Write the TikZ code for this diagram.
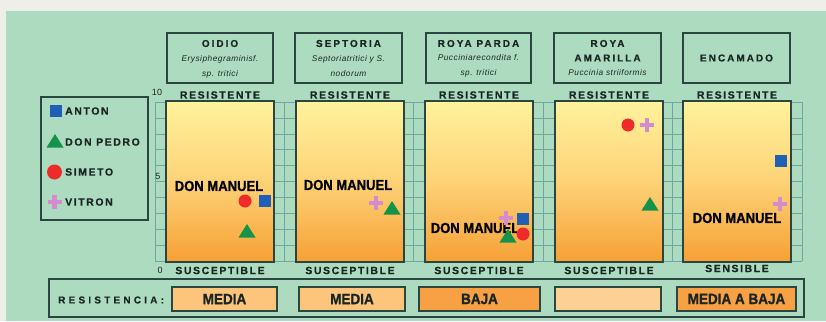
\documentclass[tikz,border=0pt]{standalone}
\usepackage{fontspec}
\setmainfont{Liberation Sans}
\newfontfamily\titlef[LetterSpace=20,FakeBold=0.5]{Liberation Sans}
\newfontfamily\labf[LetterSpace=15,FakeBold=0.5]{Liberation Sans}
\newfontfamily\legf[LetterSpace=15,FakeBold=0.5]{Liberation Sans}
\newfontfamily\resf[LetterSpace=32,FakeBold=0.5]{Liberation Sans}
\newfontfamily\sciencef[LetterSpace=6]{Liberation Sans}
\newfontfamily\narrowf[FakeStretch=0.9,FakeBold=1.2]{Liberation Sans}
\definecolor{topband}{HTML}{EDEFE8}
\definecolor{bg}{HTML}{ADDBBF}
\definecolor{edge}{HTML}{2B4540}
\definecolor{gridc}{HTML}{6FA8A0}
\definecolor{txt}{HTML}{1A2624}
\definecolor{gtop}{HTML}{FFF39C}
\definecolor{gmid}{HTML}{FDD276}
\definecolor{gbot}{HTML}{F7A035}
\definecolor{lightor}{HTML}{FDC47C}
\definecolor{darkor}{HTML}{F7A044}
\definecolor{paleor}{HTML}{FDD096}
\definecolor{mblue}{HTML}{1F5FB5}
\definecolor{mgreen}{HTML}{15934A}
\definecolor{mred}{HTML}{EE2A2A}
\definecolor{mpink}{HTML}{D58BD0}
\tikzset{
  box/.style={draw=edge, line width=1.5pt},
  titletxt/.style={font=\titlef\bfseries\fontsize{10}{11}\selectfont, text=txt, inner sep=0pt},
  sciname/.style={font=\sciencef\itshape\fontsize{8.3}{9}\selectfont, text=txt, inner sep=0pt},
  scalelab/.style={font=\labf\bfseries\fontsize{10.5}{11}\selectfont, text=txt, inner sep=0pt},
  legtxt/.style={font=\legf\bfseries\fontsize{10.5}{11}\selectfont, text=txt, anchor=west, inner sep=0pt},
  dmtxt/.style={font=\narrowf\bfseries\fontsize{14.5}{15}\selectfont, text=black, inner sep=0pt},
  restxt/.style={font=\narrowf\bfseries\fontsize{15}{16}\selectfont, text=txt, inner sep=0pt},
  axtxt/.style={font=\fontsize{9}{10}\selectfont, text=txt, inner sep=0pt},
  sq/.style={fill=mblue, draw=none, minimum size=12pt, inner sep=0pt, rectangle},
  circ/.style={fill=mred, draw=none, minimum size=13pt, inner sep=0pt, circle},
}
\newcommand\trimark[2]{\fill[mgreen] (#1-8.5,#2+6.5) -- (#1+8.5,#2+6.5) -- (#1,#2-7) -- cycle;}
\newcommand\plusmark[2]{\draw[mpink, line width=4.5pt] (#1-7,#2) -- (#1+7,#2) (#1,#2-7) -- (#1,#2+7);}
\begin{document}
\begin{tikzpicture}[x=1pt,y=-1pt]
\useasboundingbox (0,0) rectangle (826,321);
\fill[topband] (0,0) rectangle (826,321);
\fill[bg] (6,11) rectangle (826,321);
% grid
\foreach \k in {0,...,10} \draw[gridc, line width=0.6pt] (155,102+15.9*\k) -- (802,102+15.9*\k);
\foreach \i in {0,...,60} \draw[gridc, line width=0.6pt] (155+10.783*\i,102) -- (155+10.783*\i,261);
% axis labels
\node[axtxt] (a10) at (157,92) {10};
\node[axtxt] (a5) at (158,176) {5};
\node[axtxt] (a0) at (160,270) {0};
% columns
\foreach \x/\n in {166/1,296/2,425/3,555/4,683/5} {
  \shade[top color=gtop, bottom color=gbot, middle color=gmid] (\x,101) rectangle (\x+108,262);
  \draw[box] (\x,101) rectangle (\x+108,262);
  \node[scalelab] (res\n) at (\x+54,95) {RESISTENTE};
}
\foreach \x/\n in {166/1,296/2,425/3,555/4} \node[scalelab] (sus\n) at (\x+54,270.5) {SUSCEPTIBLE};
\node[scalelab] (sens5) at (737,268.5) {SENSIBLE};
% title boxes
\draw[box] (167,33) rectangle (273,83);
\draw[box] (295,33) rectangle (402,83);
\draw[box] (426,33) rectangle (531,83);
\draw[box] (554,33) rectangle (661,83);
\draw[box] (683,33) rectangle (790,83);
\node[titletxt] (t1) at (220,43.5) {OIDIO};
\node[sciname] (t1a) at (220,59.5) {Erysiphegraminisf.};
\node[sciname] (t1b) at (220,74) {sp. tritici};
\node[titletxt] (t2) at (348.5,43.5) {SEPTORIA};
\node[sciname] (t2a) at (348.5,59.5) {Septoriatritici y S.};
\node[sciname] (t2b) at (348.5,74) {nodorum};
\node[titletxt] (t3) at (478.5,43.5) {ROYA PARDA};
\node[sciname] (t3a) at (478.5,58) {Pucciniarecondita f.};
\node[sciname] (t3b) at (478.5,73) {sp. tritici};
\node[titletxt] (t4) at (607.5,43.5) {ROYA};
\node[titletxt] (t4a) at (607.5,58) {AMARILLA};
\node[sciname] (t4b) at (607.5,73) {Puccinia striiformis};
\node[titletxt] (t5) at (736.5,58) {ENCAMADO};
% legend
\draw[box] (41,97) rectangle (148,220);
\node[sq] (lsq) at (56,110.5) {};
\trimark{55}{141}
\node[circ, minimum size=15pt] (lci) at (54.5,172) {};
\plusmark{54.5}{202}
\node[legtxt] (l1) at (65,111) {ANTON};
\node[legtxt] (l2) at (65,142) {DON PEDRO};
\node[legtxt] (l3) at (65,172) {SIMETO};
\node[legtxt] (l4) at (65,202) {VITRON};
% column 1
\node[dmtxt] (dm1) at (219,186) {DON MANUEL};
\node[circ] (c1r) at (245,201) {};
\node[sq] (c1b) at (265,201) {};
\trimark{247}{231}
% column 2
\node[dmtxt] (dm2) at (348,185) {DON MANUEL};
\plusmark{376}{203}
\trimark{392}{208}
% column 3
\node[dmtxt] (dm3) at (475,228) {DON MANUEL};
\plusmark{506}{218}
\node[sq] (c3b) at (523,219) {};
\node[circ] (c3r) at (523,234) {};
\trimark{508}{236}
% column 4
\node[circ] (c4r) at (628,125) {};
\plusmark{647}{125}
\trimark{650}{204}
% column 5
\node[sq] (c5b) at (781,161) {};
\plusmark{780}{204}
\node[dmtxt] (dm5) at (737,218) {DON MANUEL};
% resistance row
\draw[box] (49,279) rectangle (804,317);
\node[font=\resf\bfseries\fontsize{10}{11}\selectfont, text=txt, anchor=west, inner sep=0pt] (rl) at (58,300) {RESISTENCIA:};
\filldraw[box, fill=lightor] (172,287) rectangle (277,311);
\filldraw[box, fill=lightor] (299,287) rectangle (405,311);
\filldraw[box, fill=darkor] (419,287) rectangle (540,311);
\filldraw[box, fill=paleor] (555,287) rectangle (661,311);
\filldraw[box, fill=darkor] (677,287) rectangle (796,311);
\node[restxt] (r1) at (224.5,299) {MEDIA};
\node[restxt] (r2) at (352,299) {MEDIA};
\node[restxt] (r3) at (479.5,299) {BAJA};
\node[restxt] (r5) at (736.5,299) {MEDIA A BAJA};
\end{tikzpicture}
\end{document}
